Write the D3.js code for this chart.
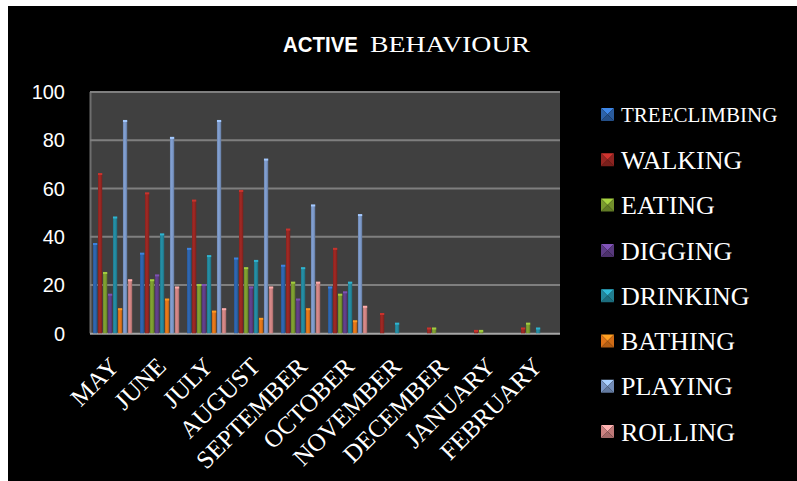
<!DOCTYPE html>
<html>
<head>
<meta charset="utf-8">
<script src="https://cdnjs.cloudflare.com/ajax/libs/d3/7.8.5/d3.min.js"></script>
<style>
  html, body { margin: 0; padding: 0; background: #fff; }
</style>
</head>
<body>
<div id="chart"></div>
<script>
// data
var months = ["MAY", "JUNE", "JULY", "AUGUST", "SEPTEMBER", "OCTOBER", "NOVEMBER", "DECEMBER", "JANUARY", "FEBRUARY"];
var behaviours = ["TREECLIMBING", "WALKING", "EATING", "DIGGING", "DRINKING", "BATHING", "PLAYING", "ROLLING"];
var treeclimbing = [37, 33, 35, 31, 28, 19, 0, 0, 0, 0];
var walking      = [66, 58, 55, 59, 43, 35, 8, 2, 1, 2];
var eating       = [25, 22, 20, 27, 21, 16, 0, 2, 1, 4];
var digging      = [16, 24, 20, 19, 14, 17, 0, 0, 0, 0];
var drinking     = [48, 41, 32, 30, 27, 21, 4, 0, 0, 2];
var bathing      = [10, 14, 9, 6, 10, 5, 0, 0, 0, 0];
var playing      = [88, 81, 88, 72, 53, 49, 0, 0, 0, 0];
var rolling      = [22, 19, 10, 19, 21, 11, 0, 0, 0, 0];
var yTicks = [0, 20, 40, 60, 80, 100];

var seriesValues = [treeclimbing, walking, eating, digging, drinking, bathing, playing, rolling];
var colors = ["#2d62a8", "#962622", "#7a9a2f", "#5e3d86", "#23879c", "#de7318", "#7b97c6", "#cc8281"];

var W = 797, H = 481;
var plot = { left: 90, right: 560, top: 92, bottom: 333.3 };

var svg = d3.select("#chart").append("svg")
    .attr("width", W)
    .attr("height", H);

var defs = svg.append("defs");

// black panel with a thin white margin top/left
svg.append("rect")
    .attr("x", 8).attr("y", 6)
    .attr("width", W - 8).attr("height", H - 6)
    .attr("fill", "#000");

// title: mixed fonts like the original
var title = svg.append("text")
    .attr("x", 283).attr("y", 52)
    .attr("fill", "#fff");
title.append("tspan")
    .attr("font-family", "Liberation Sans, Arial, sans-serif")
    .attr("font-weight", "bold")
    .attr("font-size", 22)
    .attr("textLength", 75)
    .attr("lengthAdjust", "spacingAndGlyphs")
    .text("ACTIVE");
title.append("tspan")
    .attr("x", 370)
    .attr("font-family", "Liberation Serif, Times New Roman, serif")
    .attr("font-size", 23)
    .attr("textLength", 160)
    .attr("lengthAdjust", "spacingAndGlyphs")
    .text("BEHAVIOUR");

// scales
var x0 = d3.scaleBand()
    .domain(months)
    .range([plot.left, plot.right]);

var x1 = d3.scaleBand()
    .domain(behaviours)
    .range([3, 3 + 8 * 4.9])
    .paddingInner(0.15);

var y = d3.scaleLinear()
    .domain([0, 100])
    .range([plot.bottom, plot.top]);

// plot background
svg.append("rect")
    .attr("x", plot.left).attr("y", plot.top)
    .attr("width", plot.right - plot.left)
    .attr("height", plot.bottom - plot.top)
    .attr("fill", "#404040");

// left wall edge
svg.append("line")
    .attr("x1", plot.left + 0.5).attr("x2", plot.left + 0.5)
    .attr("y1", plot.top).attr("y2", plot.bottom)
    .attr("stroke", "#6e6e6e").attr("stroke-width", 2);

// gridlines
svg.append("g")
    .selectAll("line")
    .data(yTicks.filter(function (d) { return d > 0; }))
    .enter()
    .append("line")
    .attr("x1", plot.left)
    .attr("x2", plot.right)
    .attr("y1", function (d) { return y(d); })
    .attr("y2", function (d) { return y(d); })
    .attr("stroke", "#7f7f7f")
    .attr("stroke-width", 2);

// floor
svg.append("line")
    .attr("x1", plot.left).attr("x2", plot.right)
    .attr("y1", plot.bottom + 0.5).attr("y2", plot.bottom + 0.5)
    .attr("stroke", "#a6a6a6").attr("stroke-width", 2);

// gradients to fake the 3d bar shading
colors.forEach(function (c, i) {
    var g = defs.append("linearGradient")
        .attr("id", "bar" + i)
        .attr("x1", "0%").attr("x2", "100%")
        .attr("y1", "0%").attr("y2", "0%");
    g.append("stop").attr("offset", "0%").attr("stop-color", d3.color(c).darker(0.3));
    g.append("stop").attr("offset", "45%").attr("stop-color", d3.color(c).brighter(0.25));
    g.append("stop").attr("offset", "100%").attr("stop-color", d3.color(c).darker(0.6));
});

// bars
var barData = [];
months.forEach(function (m, mi) {
    behaviours.forEach(function (b, bi) {
        barData.push({ month: m, key: b, idx: bi, value: seriesValues[bi][mi] });
    });
});

var bars = svg.append("g")
    .selectAll("g")
    .data(barData.filter(function (d) { return d.value > 0; }))
    .enter()
    .append("g");

bars.append("rect")
    .attr("x", function (d) { return x0(d.month) + x1(d.key); })
    .attr("y", function (d) { return y(d.value); })
    .attr("width", x1.bandwidth())
    .attr("height", function (d) { return y(0) - y(d.value); })
    .attr("fill", function (d) { return "url(#bar" + d.idx + ")"; });

bars.append("rect")
    .attr("x", function (d) { return x0(d.month) + x1(d.key); })
    .attr("y", function (d) { return y(d.value) - 1; })
    .attr("width", x1.bandwidth())
    .attr("height", 2)
    .attr("fill", function (d) { return d3.color(colors[d.idx]).brighter(0.8); });

// y axis labels
svg.append("g")
    .selectAll("text")
    .data(yTicks)
    .enter()
    .append("text")
    .attr("x", 65)
    .attr("y", function (d) { return y(d); })
    .attr("dy", "0.36em")
    .attr("text-anchor", "end")
    .attr("font-family", "Liberation Sans, Arial, sans-serif")
    .attr("font-size", 20)
    .attr("fill", "#fff")
    .text(function (d) { return d; });

// x axis labels, rotated
svg.append("g")
    .selectAll("text")
    .data(months)
    .enter()
    .append("text")
    .attr("transform", function (d) {
        var cx = x0(d) + x0.bandwidth() / 2;
        return "translate(" + (cx + 7) + ",368) rotate(-45)";
    })
    .attr("text-anchor", "end")
    .attr("font-family", "Liberation Serif, Times New Roman, serif")
    .attr("font-size", 25)
    .attr("fill", "#fff")
    .text(function (d) { return d; });

// legend
var legend = svg.append("g")
    .selectAll("g")
    .data(behaviours)
    .enter()
    .append("g")
    .attr("transform", function (d, i) { return "translate(601," + (114.5 + i * 45.3) + ")"; });

// bevelled marker: four triangles in shades of the series colour
var s = 13;
legend.each(function (d, i) {
    var g = d3.select(this);
    var c = d3.color(colors[i]);
    var tris = [
        { pts: [[0, -s / 2], [s, -s / 2], [s / 2, 0]], col: c.brighter(0.9) },
        { pts: [[s, -s / 2], [s, s / 2], [s / 2, 0]], col: c.darker(0.2) },
        { pts: [[0, s / 2], [s, s / 2], [s / 2, 0]], col: c.darker(0.6) },
        { pts: [[0, -s / 2], [0, s / 2], [s / 2, 0]], col: c }
    ];
    tris.forEach(function (t) {
        g.append("polygon")
            .attr("points", t.pts.map(function (p) { return p.join(","); }).join(" "))
            .attr("fill", t.col);
    });
});

legend.append("text")
    .attr("x", 20)
    .attr("dy", "0.35em")
    .attr("font-family", "Liberation Serif, Times New Roman, serif")
    .attr("font-size", function (d, i) { return i === 0 ? 21 : 26; })
    .attr("fill", "#fff")
    .text(function (d) { return d; });
</script>
</body>
</html>
